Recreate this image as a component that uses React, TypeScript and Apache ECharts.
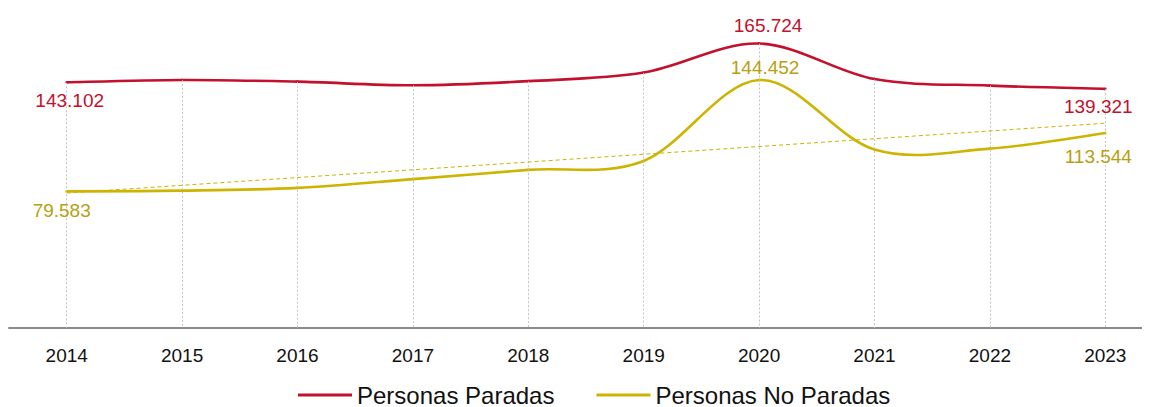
import React, { useEffect, useRef } from "react";
import * as echarts from "echarts";

const categories = ["2014", "2015", "2016", "2017", "2018", "2019", "2020", "2021", "2022", "2023"];
const paradas = [143102, 144500, 143500, 141400, 143800, 148800, 165724, 145000, 141200, 139321];
const noParadas = [79583, 80000, 81600, 86700, 92100, 97300, 144452, 104000, 104500, 113544];
const trendNoParadas = [78600, 119300]; // trend line values at 2014 and 2023
const seriesNames = ["Personas Paradas", "Personas No Paradas"];

const RED = "#C3102D";
const YELLOW = "#CDB400";
const YELLOW_TEXT = "#B8A010";
const FONT = "'Liberation Sans', Arial, sans-serif";

// which points carry labels, and label placement
const redLabels: Record<number, any> = {
  0: { position: "bottom", distance: 8, offset: [3, 0] },
  6: { position: "top", distance: 8, offset: [9, 0] },
  9: { position: "bottom", distance: 8, offset: [-7, 0] },
};
const yellowLabels: Record<number, any> = {
  0: { position: "bottom", distance: 9, offset: [-5, 0] },
  6: { position: "top", distance: 3, offset: [6, 0] },
  9: { position: "bottom", distance: 13, offset: [-7, 0] },
};

const fmt = (v: number) => {
  const s = String(Math.round(v));
  return s.replace(/\B(?=(\d{3})+(?!\d))/g, ".");
};

function withLabels(values: number[], cfg: Record<number, any>, color: string) {
  return values.map((v, i) => ({
    value: v,
    label: cfg[i]
      ? {
          show: true,
          color,
          fontSize: 19,
          fontFamily: FONT,
          formatter: (p: any) => fmt(p.value),
          ...cfg[i],
        }
      : { show: false },
  }));
}

// smooth curve (Catmull-Rom style) drawn through the axis scales
function curveSeries(name: string, values: number[], color: string) {
  return {
    name,
    type: "custom",
    silent: true,
    z: 4,
    itemStyle: { color },
    encode: { x: 0, y: 1 },
    data: values.map((v, i) => [i, v]),
    renderItem: (params: any, api: any) => {
      const n = values.length;
      const i = params.dataIndexInside;
      if (i >= n - 1) return null;
      const pt = (j: number) => {
        const k = Math.max(0, Math.min(n - 1, j));
        return api.coord([k, api.value(1, k)]);
      };
      const p0 = pt(i - 1);
      const p1 = pt(i);
      const p2 = pt(i + 1);
      const p3 = pt(i + 2);
      const t = 1 / 6;
      const c1 = [p1[0] + (p2[0] - p0[0]) * t, p1[1] + (p2[1] - p0[1]) * t];
      const c2 = [p2[0] - (p3[0] - p1[0]) * t, p2[1] - (p3[1] - p1[1]) * t];
      const d = `M${p1[0]},${p1[1]} C${c1[0]},${c1[1]} ${c2[0]},${c2[1]} ${p2[0]},${p2[1]}`;
      return {
        type: "path",
        shape: { pathData: d },
        style: { fill: "none", stroke: color, lineWidth: 2.6, lineCap: "round" },
      };
    },
  };
}

export default function App() {
  const ref = useRef<HTMLDivElement>(null);
  useEffect(() => {
    if (!ref.current) return;
    const chart = echarts.init(ref.current, undefined, { renderer: "svg" });
    chart.setOption({
      animation: false,
      textStyle: { fontFamily: FONT },
      grid: { left: 1, right: 5, top: 11, bottom: 79, containLabel: false },
      legend: {
        left: 285,
        top: 370,
        itemWidth: 54,
        itemHeight: 3,
        itemGap: 42,
        icon: "rect",
        textStyle: { fontSize: 24, color: "#111", fontFamily: FONT },
        data: seriesNames,
      },
      xAxis: {
        type: "category",
        data: categories,
        boundaryGap: true,
        axisLine: { show: true, lineStyle: { color: "#8a8a8a", width: 2 } },
        axisTick: { show: false },
        axisLabel: { color: "#111", fontSize: 19, margin: 18, fontFamily: FONT },
        splitLine: { show: false },
      },
      yAxis: {
        type: "value",
        min: 0,
        max: 180000,
        show: false,
        splitLine: { show: false },
      },
      series: [
        {
          name: seriesNames[0],
          type: "line",
          symbol: "circle",
          symbolSize: 1,
          showSymbol: true,
          silent: true,
          z: 5,
          lineStyle: { width: 0, opacity: 0 },
          itemStyle: { color: RED },
          data: withLabels(paradas, redLabels, RED),
          markLine: {
            silent: true,
            symbol: "none",
            label: { show: false },
            lineStyle: { color: "#c4c4c4", width: 1, type: [2, 2] },
            data: categories.map((c, i) => [
              { coord: [c, paradas[i]] },
              { coord: [c, 0] },
            ]),
          },
        },
        {
          name: seriesNames[1],
          type: "line",
          symbol: "circle",
          symbolSize: 1,
          showSymbol: true,
          silent: true,
          z: 5,
          lineStyle: { width: 0, opacity: 0 },
          itemStyle: { color: YELLOW },
          data: withLabels(noParadas, yellowLabels, YELLOW_TEXT),
          markLine: {
            silent: true,
            symbol: "none",
            label: { show: false },
            lineStyle: { color: YELLOW, width: 1, type: [4, 3] },
            data: [
              [
                { coord: [categories[0], trendNoParadas[0]] },
                { coord: [categories[categories.length - 1], trendNoParadas[1]] },
              ],
            ],
          },
        },
        curveSeries(seriesNames[0], paradas, RED),
        curveSeries(seriesNames[1], noParadas, YELLOW),
      ],
    });
    return () => chart.dispose();
  }, []);
  return (
    <div style={{ width: 1142, height: 399, overflow: "hidden" }}>
      <div ref={ref} style={{ width: 1160, height: 399 }} />
    </div>
  );
}
